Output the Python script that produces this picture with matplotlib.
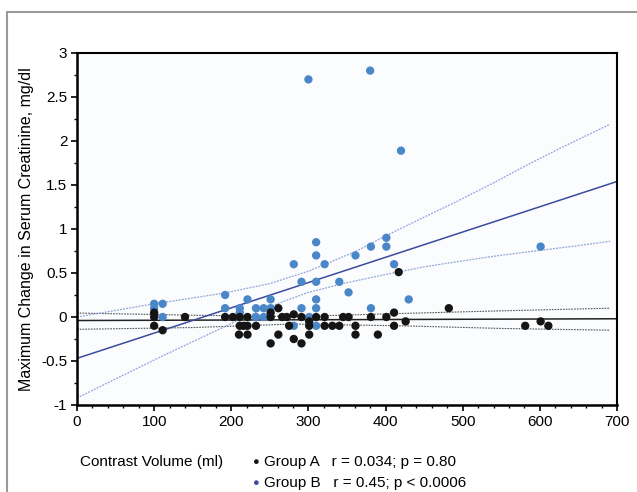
import matplotlib
matplotlib.use("Agg")
import matplotlib.pyplot as plt
from matplotlib.patches import Rectangle
from matplotlib.ticker import MultipleLocator

# Group A (black) points: contrast volume (ml), change in creatinine (mg/dl)
a_x = [100, 100, 100, 111, 140, 192, 202, 211, 221, 211, 216, 221, 210, 221,
       232, 251, 251, 261, 251, 261, 266, 272, 275, 281, 281, 291, 291, 301,
       301, 301, 310, 321, 321, 331, 340, 345, 352, 361, 361, 381, 390, 401,
       411, 411, 417, 426, 482, 581, 601, 611]
a_y = [0.05, 0.0, -0.1, -0.15, 0.0, 0.0, 0.0, 0.0, 0.0, -0.1, -0.1, -0.1, -0.2,
       -0.2, -0.1, 0.05, 0.0, 0.1, -0.3, -0.2, 0.0, 0.0, -0.1, 0.03, -0.25, 0.0,
       -0.3, -0.05, -0.1, -0.2, 0.0, 0.0, -0.1, -0.1, -0.1, 0.0, 0.0, -0.1, -0.2,
       0.0, -0.2, 0.0, 0.05, -0.1, 0.51, -0.05, 0.1, -0.1, -0.05, -0.1]

# Group B (blue) points
b_x = [100, 111, 100, 111, 192, 192, 211, 211, 221, 232, 232, 242, 242, 251,
       251, 281, 281, 291, 291, 301, 310, 310, 310, 310, 310, 310, 321, 340,
       352, 361, 381, 381, 401, 401, 411, 430, 601, 420, 300, 380]
b_y = [0.15, 0.15, 0.1, 0.0, 0.25, 0.1, 0.1, 0.05, 0.2, 0.1, 0.0, 0.1, 0.0, 0.2,
       0.1, 0.6, -0.1, 0.4, 0.1, 0.0, 0.85, 0.7, 0.4, 0.2, 0.1, -0.1, 0.6, 0.4,
       0.28, 0.7, 0.8, 0.1, 0.9, 0.8, 0.6, 0.2, 0.8, 1.89, 2.7, 2.8]

# regression lines and confidence bands
b_fit_x = [0, 700]
b_fit_y = [-0.47, 1.54]
b_up_x = [0, 100, 190, 250, 300, 360, 402, 449, 494, 539, 584, 629, 691]
b_up_y = [0.0, 0.15, 0.27, 0.38, 0.52, 0.74, 0.93, 1.13, 1.32, 1.52, 1.73, 1.93, 2.19]
b_lo_x = [0, 109, 201, 250, 300, 350, 404, 450, 494, 540, 584, 640, 691]
b_lo_y = [-0.92, -0.45, -0.07, 0.12, 0.28, 0.39, 0.49, 0.57, 0.63, 0.69, 0.74, 0.80, 0.86]

a_fit_x = [0, 700]
a_fit_y = [-0.04, -0.02]
a_up_x = [0, 150, 280, 420, 550, 691]
a_up_y = [0.045, 0.02, 0.005, 0.04, 0.07, 0.10]
a_lo_x = [0, 150, 280, 420, 550, 691]
a_lo_y = [-0.14, -0.12, -0.08, -0.10, -0.13, -0.15]

BLUE = '#4a87c9'
DARK_BLUE = '#3d4b9c'
BAND_BLUE = '#8ea5d8'

plt.rcParams['font.family'] = ['Liberation Sans', 'DejaVu Sans']

fig = plt.figure(figsize=(6.37, 4.92), dpi=100)
fig.patch.set_facecolor('white')

# grey frame around the figure
fig.patches.append(Rectangle((7 / 637, -0.1), 1.2, 1 - 12 / 492 + 0.1,
                             transform=fig.transFigure, fill=False,
                             edgecolor='#9a9a9a', linewidth=1.5))

ax = fig.add_axes([77 / 637, 1 - 405 / 492, 540 / 637, 352 / 492])
ax.set_facecolor('#fafcfd')

# group A fit
ax.plot(a_fit_x, a_fit_y, color='#222222', lw=1.1, zorder=2)
ax.plot(a_up_x, a_up_y, color='#555555', lw=0.8, ls=(0, (1.5, 1)), zorder=2)
ax.plot(a_lo_x, a_lo_y, color='#555555', lw=0.8, ls=(0, (1.5, 1)), zorder=2)

# group B fit
ax.plot(b_fit_x, b_fit_y, color=DARK_BLUE, lw=1.1, zorder=2)
ax.plot(b_up_x, b_up_y, color=BAND_BLUE, lw=0.9, ls=(0, (1.5, 1)), zorder=2)
ax.plot(b_lo_x, b_lo_y, color=BAND_BLUE, lw=0.9, ls=(0, (1.5, 1)), zorder=2)

ax.scatter(b_x, b_y, s=36, color=BLUE, edgecolors='none', zorder=3, clip_on=False)
ax.scatter(a_x, a_y, s=36, color='#151515', edgecolors='none', zorder=4, clip_on=False)

ax.set_xlim(0, 700)
ax.set_ylim(-1, 3)
ax.xaxis.set_major_locator(MultipleLocator(100))
ax.xaxis.set_minor_locator(MultipleLocator(20))
ax.yaxis.set_major_locator(MultipleLocator(0.5))
ax.yaxis.set_minor_locator(MultipleLocator(0.25))
ax.set_yticks([-1, -0.5, 0, 0.5, 1, 1.5, 2, 2.5, 3])
ax.set_yticklabels(['-1', '-0.5', '0', '0.5', '1', '1.5', '2', '2.5', '3'])

ax.tick_params(which='major', direction='out', length=4, width=1.2,
               labelsize=11, colors='black', pad=3)
ax.tick_params(which='minor', direction='out', length=2.5, width=1.0)

for side in ['left', 'bottom']:
    ax.spines[side].set_linewidth(1.8)
for side in ['top', 'right']:
    ax.spines[side].set_linewidth(1.5)

ax.set_ylabel('Maximum Change in Serum Creatinine, mg/dl', fontsize=11.5, labelpad=5)

fig.text(80 / 637, 1 - 462 / 492, 'Contrast Volume (ml)', fontsize=11,
         ha='left', va='center')
fig.text(252 / 637, 1 - 462 / 492, '\u25cf', fontsize=8, color='#151515',
         ha='left', va='center')
fig.text(264 / 637, 1 - 462 / 492, 'Group A   r = 0.034; p = 0.80',
         fontsize=11, ha='left', va='center')
fig.text(252 / 637, 1 - 483 / 492, '\u25cf', fontsize=8, color=DARK_BLUE,
         ha='left', va='center')
fig.text(264 / 637, 1 - 483 / 492, 'Group B   r = 0.45; p < 0.0006',
         fontsize=11, ha='left', va='center')

fig.savefig('out.png', dpi=100, facecolor='white')
